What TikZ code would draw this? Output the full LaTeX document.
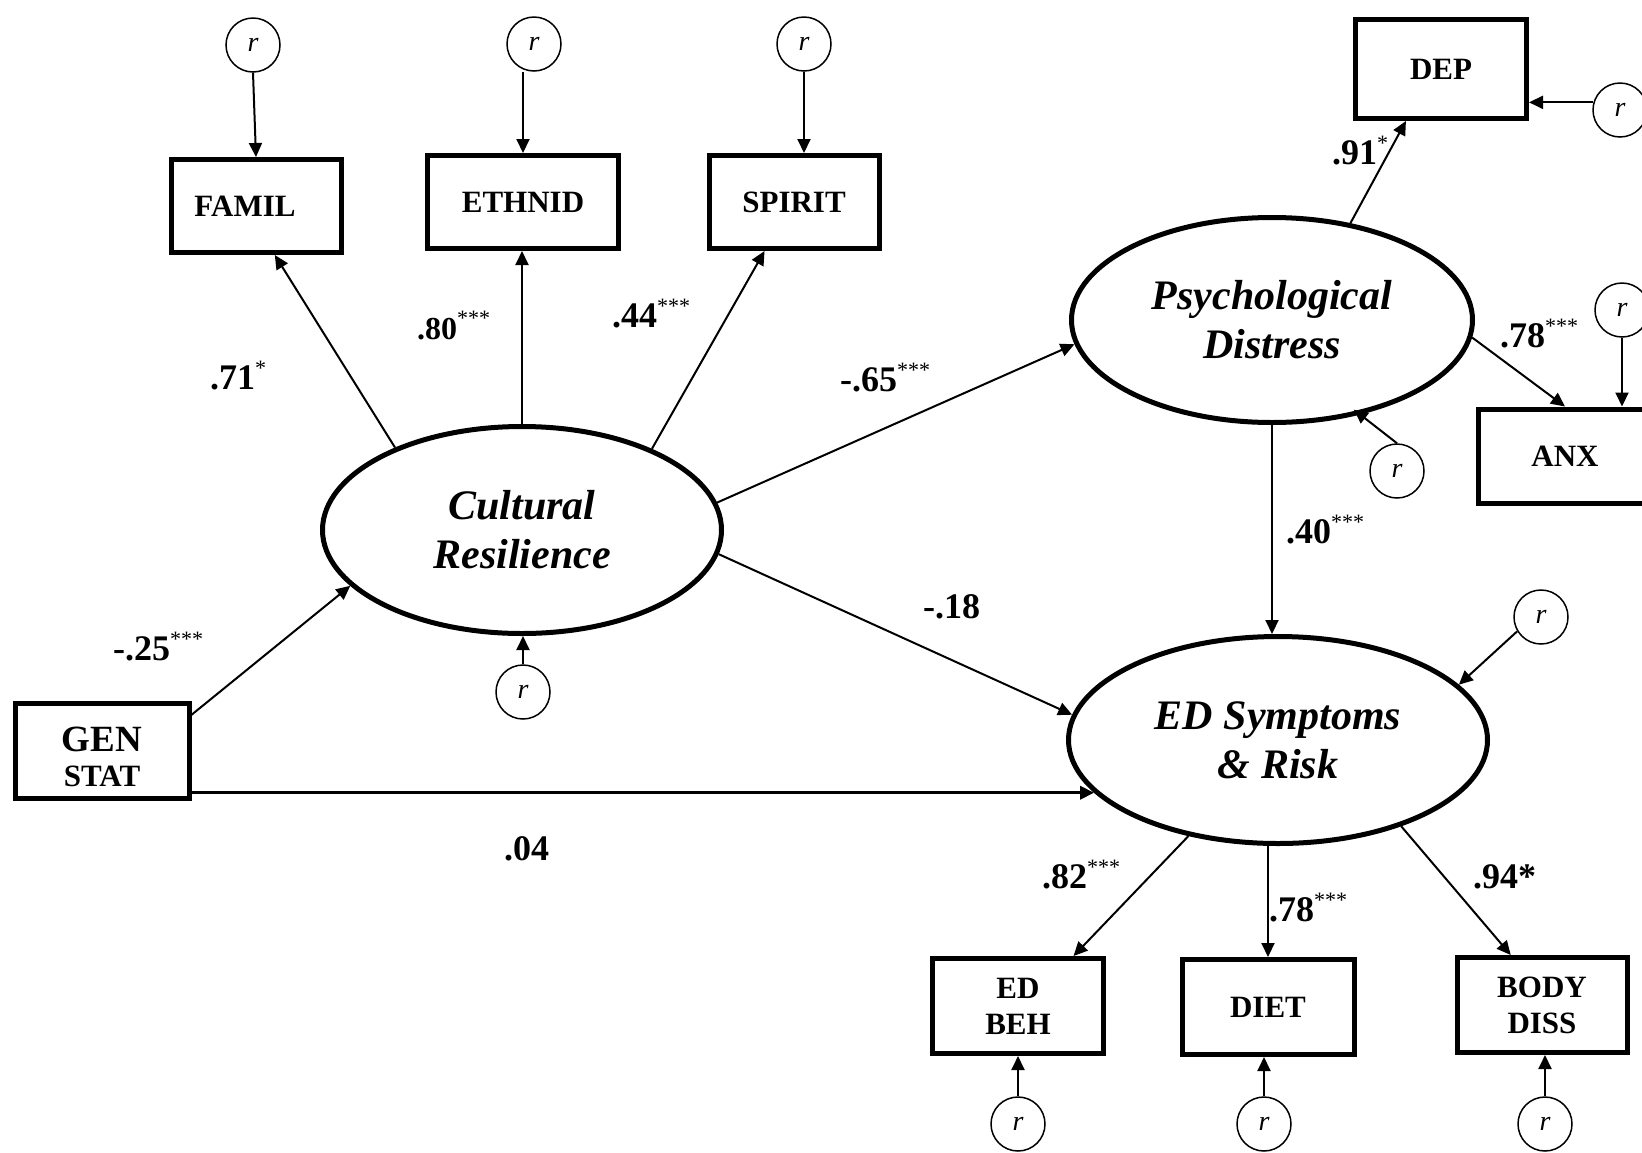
\documentclass[tikz,border=0pt]{standalone}
\usepackage{fontspec}
\setmainfont{Liberation Serif}
\usetikzlibrary{arrows.meta,shapes.geometric,calc}
\tikzset{
 obs/.style={draw, line width=5pt, inner sep=0pt, align=center, font=\fontsize{31}{36}\selectfont\bfseries},
 lat/.style={draw, ellipse, line width=5pt, inner sep=0pt, align=center, font=\fontsize{42}{49}\selectfont\bfseries\itshape},
 res/.style={draw, circle, line width=1.5pt, minimum size=54pt, inner sep=0pt, font=\fontsize{28}{28}\selectfont\itshape},
 arr/.style={line width=2pt, -{Triangle[length=14pt,width=13pt]}},
 coef/.style={anchor=base west, inner sep=0pt, font=\fontsize{36}{36}\selectfont\bfseries},
}
\newcommand\stars[1]{\raisebox{14pt}{\fontsize{22}{22}\selectfont\mdseries #1}}
\begin{document}
\begin{tikzpicture}[x=1pt,y=-1pt]
\fill[white] (0,0) rectangle (1642,1152);
\useasboundingbox (0,0) rectangle (1642,1152);

% observed boxes
\node[obs, minimum width=170pt, minimum height=93pt] (FAMIL) at (256,206) {\hspace*{-22pt}FAMIL};
\node[obs, minimum width=191pt, minimum height=93pt] (ETHNID) at (523,202) {ETHNID};
\node[obs, minimum width=170pt, minimum height=93pt] (SPIRIT) at (794,202) {SPIRIT};
\node[obs, minimum width=171pt, minimum height=99pt] (DEP) at (1441,69) {DEP};
\node[obs, minimum width=173pt, minimum height=94pt] (ANX) at (1565,456) {ANX};
\node[obs, minimum width=174pt, minimum height=95pt, font=\fontsize{31}{35}\selectfont\bfseries] (GEN) at (102,751) {{\rule{0pt}{37pt}\fontsize{37}{35}\selectfont GEN}\\STAT};
\node[obs, minimum width=171pt, minimum height=95pt] (EDBEH) at (1018,1006) {ED\\BEH};
\node[obs, minimum width=172pt, minimum height=95pt] (DIET) at (1268,1007) {DIET};
\node[obs, minimum width=170pt, minimum height=95pt] (BODY) at (1542,1005) {BODY\\DISS};

% latent ellipses
\node[lat, minimum width=399pt, minimum height=207pt] (CR) at (522,530) {Cultural\\Resilience};
\node[lat, minimum width=401pt, minimum height=205pt] (PD) at (1272,320) {Psychological\\Distress};
\node[lat, minimum width=419pt, minimum height=207pt] (ED) at (1278,740) {ED Symptoms\\\& Risk};

% residuals
\node[res] (rF) at (253,45) {r};
\node[res] (rE) at (534,44) {r};
\node[res] (rS) at (804,44) {r};
\node[res] (rCR) at (523,692) {r};
\node[res] (rPD) at (1397,471) {r};
\node[res] (rDEP) at (1620,110) {r};
\node[res] (rANX) at (1622,310) {r};
\node[res] (rED) at (1541,617) {r};
\node[res] (rEB) at (1018,1124) {r};
\node[res] (rDI) at (1264,1124) {r};
\node[res] (rBD) at (1545,1124) {r};

% paths
\draw[arr] (rF.south) -- (FAMIL.north);
\draw[arr] (rE.south -| ETHNID.north) -- (ETHNID.north);
\draw[arr] (rS.south) -- (rS.south |- SPIRIT.north);
\draw[arr] (CR.147.6) -- (FAMIL.-69);
\draw[arr] (CR.north) -- (CR.north |- ETHNID.south);
\draw[arr] (CR.32.2) -- (SPIRIT.-121.6);
\draw[arr] (CR.8.2) -- (PD.187);
\draw[arr] (CR.-7.1) -- (ED.173.1);
\draw[arr] (GEN.22.7) -- (CR.198.9);
\draw[arr, line width=3.5pt] (GEN.-25.9) -- (GEN.-25.9 -| ED.196.5);
\draw[arr] (rCR.north) -- (rCR.north |- CR.south);
\draw[arr] (PD.51.7) -- (DEP.-124.5);
\draw[arr] (rDEP.164) -- (rDEP.164 -| DEP.east);
\draw[arr] (PD.-5.7) -- (ANX.north);
\draw[arr] (rANX.south) -- (rANX.south |- ANX.north);
\draw[arr, shorten >=-8pt] (rPD.north) -- (PD.-47);
\draw[arr] (PD.south) -- (PD.south |- ED.north);
\draw[arr] (rED.211) -- (ED.17);
\draw[arr] (ED.-133.8) -- (EDBEH.42);
\draw[arr] (ED.south -| DIET.north) -- (DIET.north);
\draw[arr] (ED.-35.3) -- (BODY.122);
\draw[arr] (rEB.north) -- (rEB.north |- EDBEH.south);
\draw[arr] (rDI.north) -- (rDI.north |- DIET.south);
\draw[arr] (rBD.north) -- (rBD.north |- BODY.south);

% coefficients
\node[coef] (l71) at (210,389) {.71\stars{*}};
\node[coef, font=\fontsize{32}{32}\selectfont\bfseries] (l80) at (417,339) {.80\stars{***}};
\node[coef] (l44) at (612,327) {.44\stars{***}};
\node[coef] (l65) at (840,391) {-.65\stars{***}};
\node[coef] (l18) at (923,618) {-.18};
\node[coef] (l25) at (113,660) {-.25\stars{***}};
\node[coef] (l04) at (504,860) {.04};
\node[coef] (l91) at (1332,164) {.91\stars{*}};
\node[coef] (l78a) at (1500,347) {.78\stars{***}};
\node[coef] (l40) at (1286,543) {.40\stars{***}};
\node[coef] (l82) at (1042,888) {.82\stars{***}};
\node[coef] (l78b) at (1269,921) {.78\stars{***}};
\node[coef] (l94) at (1473,888) {.94*};
\end{tikzpicture}
\end{document}
